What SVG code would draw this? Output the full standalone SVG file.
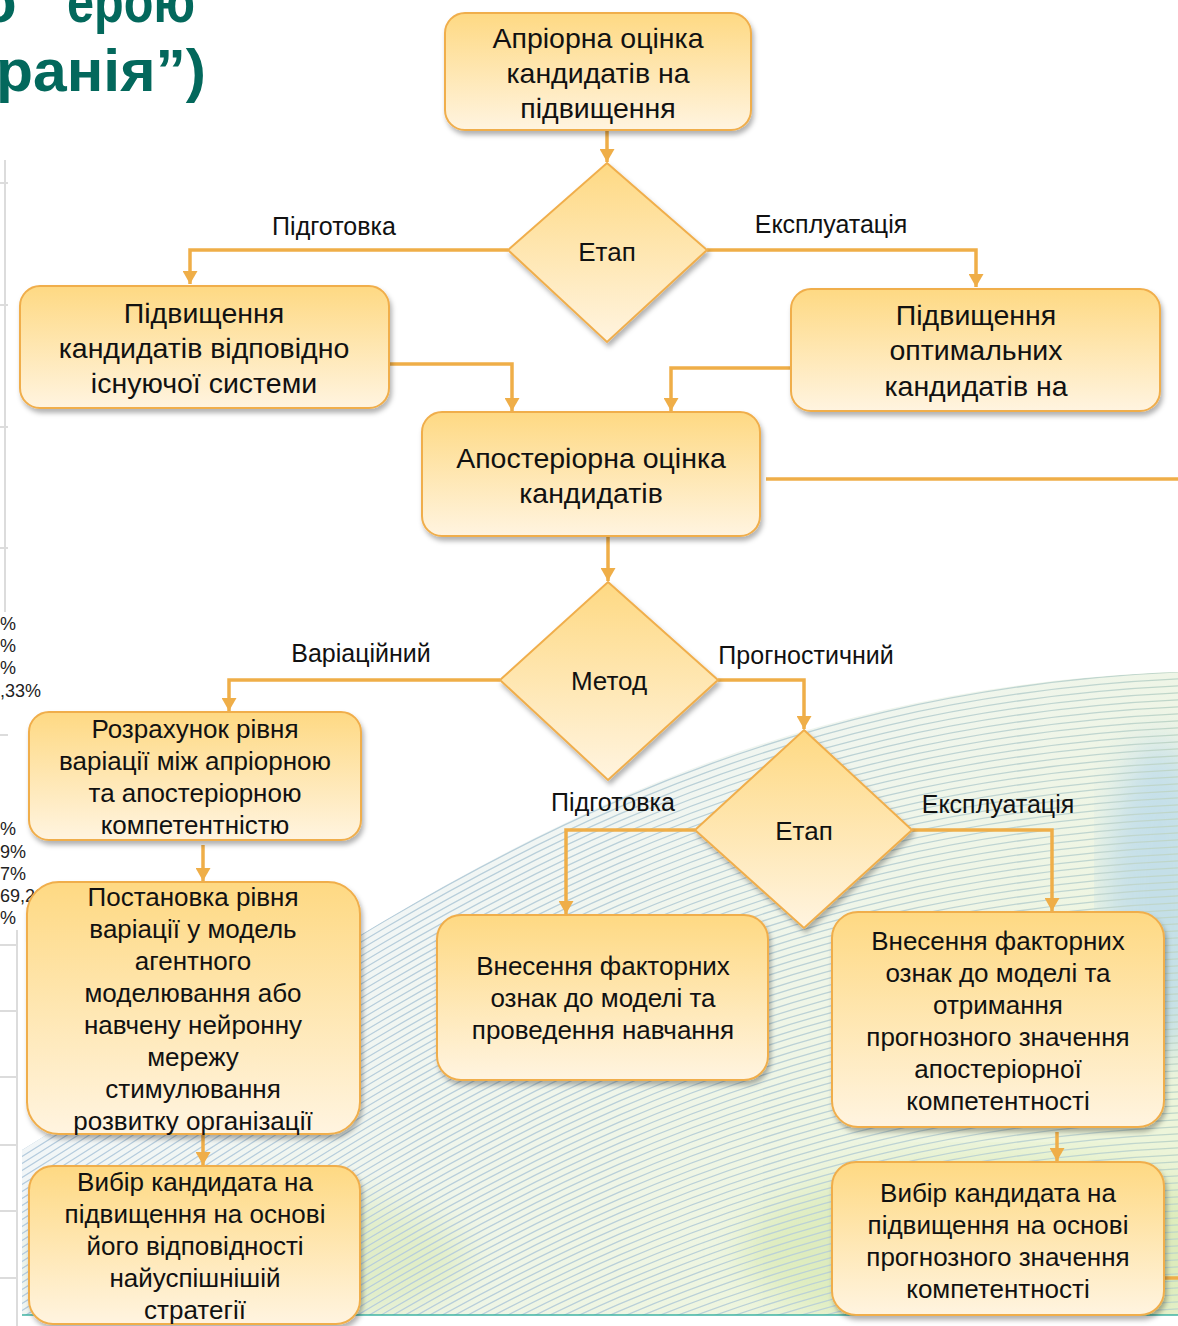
<svg xmlns="http://www.w3.org/2000/svg" width="1178" height="1326" viewBox="0 0 1178 1326">
<style>
.box{fill:url(#bg);stroke:#f0ae4c;stroke-width:2;filter:url(#sh)}
.dia{fill:url(#bg);stroke:#f0ae4c;stroke-width:2;filter:url(#sh)}
.t28{font-family:"Liberation Sans",Arial,sans-serif;font-size:28.5px;fill:#111;text-anchor:middle}
.t26{font-family:"Liberation Sans",Arial,sans-serif;font-size:26px;fill:#111;text-anchor:middle}
.lbl{font-family:"Liberation Sans",Arial,sans-serif;font-size:25px;fill:#111;text-anchor:middle}
.con{fill:none;stroke:#efae48;stroke-width:3.5}
.pct{font-family:"Liberation Sans",Arial,sans-serif;font-size:18px;fill:#222}
.grid{stroke:#dcdcdc;stroke-width:2;fill:none}
.title{font-family:"Liberation Sans",Arial,sans-serif;font-size:60px;font-weight:bold;fill:#03685c}
</style>
<defs>
<linearGradient id="bg" x1="0" y1="0" x2="0" y2="1">
<stop offset="0" stop-color="#fed983"/>
<stop offset="1" stop-color="#fff4e0"/>
</linearGradient>
<linearGradient id="wg" gradientUnits="userSpaceOnUse" x1="400" y1="750" x2="900" y2="1320">
<stop offset="0" stop-color="#b3cae0"/>
<stop offset="0.55" stop-color="#c0d6cf"/>
<stop offset="1" stop-color="#b5d488"/>
</linearGradient>
<linearGradient id="wf" gradientUnits="userSpaceOnUse" x1="400" y1="750" x2="900" y2="1320">
<stop offset="0" stop-color="#f2f6fa"/>
<stop offset="1" stop-color="#edf5da"/>
</linearGradient>
<filter id="sh" x="-10%" y="-10%" width="120%" height="130%">
<feDropShadow dx="2" dy="4" stdDeviation="2.5" flood-color="#000" flood-opacity="0.3"/>
</filter>
<filter id="blur"><feGaussianBlur stdDeviation="18"/></filter>
<clipPath id="wc"><path d="M22,1150 C350,950 650,690 1178,672 V1315 H22 Z"/></clipPath>
<path id="wave" d="M0,1163 C350,950 650,690 1200,671" fill="none" stroke="url(#wg)" stroke-width="1.3"/>
<marker id="ah" markerWidth="15" markerHeight="15" refX="13" refY="7.5" orient="auto" markerUnits="userSpaceOnUse">
<path d="M0,0 L13,7.5 L0,15 Z" fill="#efae48"/>
</marker>
</defs>
<rect width="1178" height="1326" fill="#fff"/>

<g id="background">
<text class="title" x="-20" y="22">о</text>
<text class="title" x="67" y="22" textLength="128" lengthAdjust="spacingAndGlyphs">ерою</text>
<text class="title" x="-4" y="91" textLength="210" lengthAdjust="spacingAndGlyphs">ранія”)</text>
<path class="grid" d="M5,160 V612 M0,183 H8 M0,305 H8 M0,427 H8 M0,548 H8 M0,735 H8 M17,930 V1326 M0,945 H17 M0,1011 H17 M0,1077 H17 M0,1145 H17 M0,1211 H17 M0,1278 H17"/>
<text class="pct" x="0" y="630">%</text>
<text class="pct" x="0" y="652">%</text>
<text class="pct" x="0" y="674">%</text>
<text class="pct" x="0" y="697">,33%</text>
<text class="pct" x="0" y="835">%</text>
<text class="pct" x="0" y="858">9%</text>
<text class="pct" x="0" y="880">7%</text>
<text class="pct" x="0" y="902">69,29%</text>
<text class="pct" x="0" y="924">%</text>
<g clip-path="url(#wc)">
<rect x="22" y="660" width="1160" height="660" fill="url(#wf)"/>
<ellipse cx="1160" cy="900" rx="55" ry="160" fill="#9ccaf0" opacity="0.5" filter="url(#blur)"/>
<ellipse cx="1000" cy="1250" rx="260" ry="90" fill="#cfe39f" opacity="0.5" filter="url(#blur)"/>
<ellipse cx="250" cy="1260" rx="220" ry="70" fill="#cfe39f" opacity="0.45" filter="url(#blur)"/>
<use href="#wave" y="0"/><use href="#wave" y="7"/><use href="#wave" y="14"/><use href="#wave" y="21"/>
<use href="#wave" y="28"/><use href="#wave" y="35"/><use href="#wave" y="42"/><use href="#wave" y="49"/>
<use href="#wave" y="56"/><use href="#wave" y="63"/><use href="#wave" y="70"/><use href="#wave" y="77"/>
<use href="#wave" y="84"/><use href="#wave" y="91"/><use href="#wave" y="98"/><use href="#wave" y="105"/>
<use href="#wave" y="112"/><use href="#wave" y="119"/><use href="#wave" y="126"/><use href="#wave" y="133"/>
<use href="#wave" y="140"/><use href="#wave" y="147"/><use href="#wave" y="154"/><use href="#wave" y="161"/>
<use href="#wave" y="168"/><use href="#wave" y="175"/><use href="#wave" y="182"/><use href="#wave" y="189"/>
<use href="#wave" y="196"/><use href="#wave" y="203"/><use href="#wave" y="210"/><use href="#wave" y="217"/>
<use href="#wave" y="224"/><use href="#wave" y="231"/><use href="#wave" y="238"/><use href="#wave" y="245"/>
<use href="#wave" y="252"/><use href="#wave" y="259"/><use href="#wave" y="266"/><use href="#wave" y="273"/>
<use href="#wave" y="280"/><use href="#wave" y="287"/><use href="#wave" y="294"/><use href="#wave" y="301"/>
<use href="#wave" y="308"/><use href="#wave" y="315"/><use href="#wave" y="322"/><use href="#wave" y="329"/>
<use href="#wave" y="336"/><use href="#wave" y="343"/><use href="#wave" y="350"/><use href="#wave" y="357"/>
<use href="#wave" y="364"/><use href="#wave" y="371"/><use href="#wave" y="378"/><use href="#wave" y="385"/>
<use href="#wave" y="392"/><use href="#wave" y="399"/><use href="#wave" y="406"/><use href="#wave" y="413"/>
<use href="#wave" y="420"/><use href="#wave" y="427"/><use href="#wave" y="434"/><use href="#wave" y="441"/>
<use href="#wave" y="448"/><use href="#wave" y="455"/><use href="#wave" y="462"/><use href="#wave" y="469"/>
<use href="#wave" y="476"/><use href="#wave" y="483"/><use href="#wave" y="490"/><use href="#wave" y="497"/>
<use href="#wave" y="504"/><use href="#wave" y="511"/><use href="#wave" y="518"/><use href="#wave" y="525"/>
<use href="#wave" y="532"/><use href="#wave" y="539"/><use href="#wave" y="546"/><use href="#wave" y="553"/>
<use href="#wave" y="560"/><use href="#wave" y="567"/><use href="#wave" y="574"/><use href="#wave" y="581"/>
<use href="#wave" y="588"/><use href="#wave" y="595"/><use href="#wave" y="602"/><use href="#wave" y="609"/>
<use href="#wave" y="616"/><use href="#wave" y="623"/><use href="#wave" y="630"/><use href="#wave" y="637"/>
</g>
<path d="M22,1315 H1178" stroke="#3fb3a3" stroke-width="1.5"/>
</g>

<g id="connectors">
<path class="con" d="M607,130 V162" marker-end="url(#ah)"/>
<path class="con" d="M508,250 H190 V284" marker-end="url(#ah)"/>
<path class="con" d="M707,250 H976 V287" marker-end="url(#ah)"/>
<path class="con" d="M389,364 H512 V411" marker-end="url(#ah)"/>
<path class="con" d="M791,368 H671 V411" marker-end="url(#ah)"/>
<path class="con" d="M766,479 H1178"/>
<path class="con" d="M608,536 V581" marker-end="url(#ah)"/>
<path class="con" d="M500,680 H229 V711" marker-end="url(#ah)"/>
<path class="con" d="M718,680 H804 V729" marker-end="url(#ah)"/>
<path class="con" d="M695,830 H566 V914" marker-end="url(#ah)"/>
<path class="con" d="M912,830 H1052 V911" marker-end="url(#ah)"/>
<path class="con" d="M203,845 V881" marker-end="url(#ah)"/>
<path class="con" d="M203,1134 V1165" marker-end="url(#ah)"/>
<path class="con" d="M1057,1132 V1161" marker-end="url(#ah)"/>
<path class="con" d="M1164,1278 H1178"/>
<text class="lbl" x="334" y="235">Підготовка</text>
<text class="lbl" x="831" y="233">Експлуатація</text>
<text class="lbl" x="361" y="662">Варіаційний</text>
<text class="lbl" x="806" y="664">Прогностичний</text>
<text class="lbl" x="613" y="811">Підготовка</text>
<text class="lbl" x="998" y="813">Експлуатація</text>
</g>

<g id="n1">
<rect class="box" x="445" y="13" width="306" height="117" rx="20"/>
<text class="t28" x="598" y="48">Апріорна оцінка</text>
<text class="t28" x="598" y="83">кандидатів на</text>
<text class="t28" x="598" y="118">підвищення</text>
</g>
<g id="d1">
<polygon class="dia" points="607,163 707,250 607,342 508,250"/>
<text class="t26" x="607" y="261">Етап</text>
</g>
<g id="n2">
<rect class="box" x="20" y="286" width="369" height="122" rx="20"/>
<text class="t28" x="204" y="323">Підвищення</text>
<text class="t28" x="204" y="358">кандидатів відповідно</text>
<text class="t28" x="204" y="393">існуючої системи</text>
</g>
<g id="n3">
<rect class="box" x="791" y="289" width="369" height="122" rx="20"/>
<text class="t28" x="976" y="325">Підвищення</text>
<text class="t28" x="976" y="360">оптимальних</text>
<text class="t28" x="976" y="396">кандидатів на</text>
</g>
<g id="n4">
<rect class="box" x="422" y="412" width="338" height="124" rx="20"/>
<text class="t28" x="591" y="468">Апостеріорна оцінка</text>
<text class="t28" x="591" y="503">кандидатів</text>
</g>
<g id="d2">
<polygon class="dia" points="608,582 718,680 608,780 500,680"/>
<text class="t26" x="609" y="690">Метод</text>
</g>
<g id="n5">
<rect class="box" x="29" y="712" width="332" height="128" rx="20"/>
<text class="t26" x="195" y="738">Розрахунок рівня</text>
<text class="t26" x="195" y="770">варіації між апріорною</text>
<text class="t26" x="195" y="802">та апостеріорною</text>
<text class="t26" x="195" y="834">компетентністю</text>
</g>
<g id="d3">
<polygon class="dia" points="804,730 912,830 804,928 695,830"/>
<text class="t26" x="804" y="840">Етап</text>
</g>
<g id="n6">
<rect class="box" x="27" y="882" width="333" height="252" rx="32"/>
<text class="t26" x="193" y="906">Постановка рівня</text>
<text class="t26" x="193" y="938">варіації у модель</text>
<text class="t26" x="193" y="970">агентного</text>
<text class="t26" x="193" y="1002">моделювання або</text>
<text class="t26" x="193" y="1034">навчену нейронну</text>
<text class="t26" x="193" y="1066">мережу</text>
<text class="t26" x="193" y="1098">стимулювання</text>
<text class="t26" x="193" y="1130">розвитку організації</text>
</g>
<g id="n7">
<rect class="box" x="437" y="915" width="331" height="165" rx="24"/>
<text class="t26" x="603" y="975">Внесення факторних</text>
<text class="t26" x="603" y="1007">ознак до моделі та</text>
<text class="t26" x="603" y="1039">проведення навчання</text>
</g>
<g id="n8">
<rect class="box" x="832" y="912" width="332" height="215" rx="26"/>
<text class="t26" x="998" y="950">Внесення факторних</text>
<text class="t26" x="998" y="982">ознак до моделі та</text>
<text class="t26" x="998" y="1014">отримання</text>
<text class="t26" x="998" y="1046">прогнозного значення</text>
<text class="t26" x="998" y="1078">апостеріорної</text>
<text class="t26" x="998" y="1110">компетентності</text>
</g>
<g id="n9">
<rect class="box" x="29" y="1166" width="331" height="158" rx="24"/>
<text class="t26" x="195" y="1191">Вибір кандидата на</text>
<text class="t26" x="195" y="1223">підвищення на основі</text>
<text class="t26" x="195" y="1255">його відповідності</text>
<text class="t26" x="195" y="1287">найуспішнішій</text>
<text class="t26" x="195" y="1319">стратегії</text>
</g>
<g id="n10">
<rect class="box" x="832" y="1162" width="332" height="153" rx="24"/>
<text class="t26" x="998" y="1202">Вибір кандидата на</text>
<text class="t26" x="998" y="1234">підвищення на основі</text>
<text class="t26" x="998" y="1266">прогнозного значення</text>
<text class="t26" x="998" y="1298">компетентності</text>
</g>
</svg>
